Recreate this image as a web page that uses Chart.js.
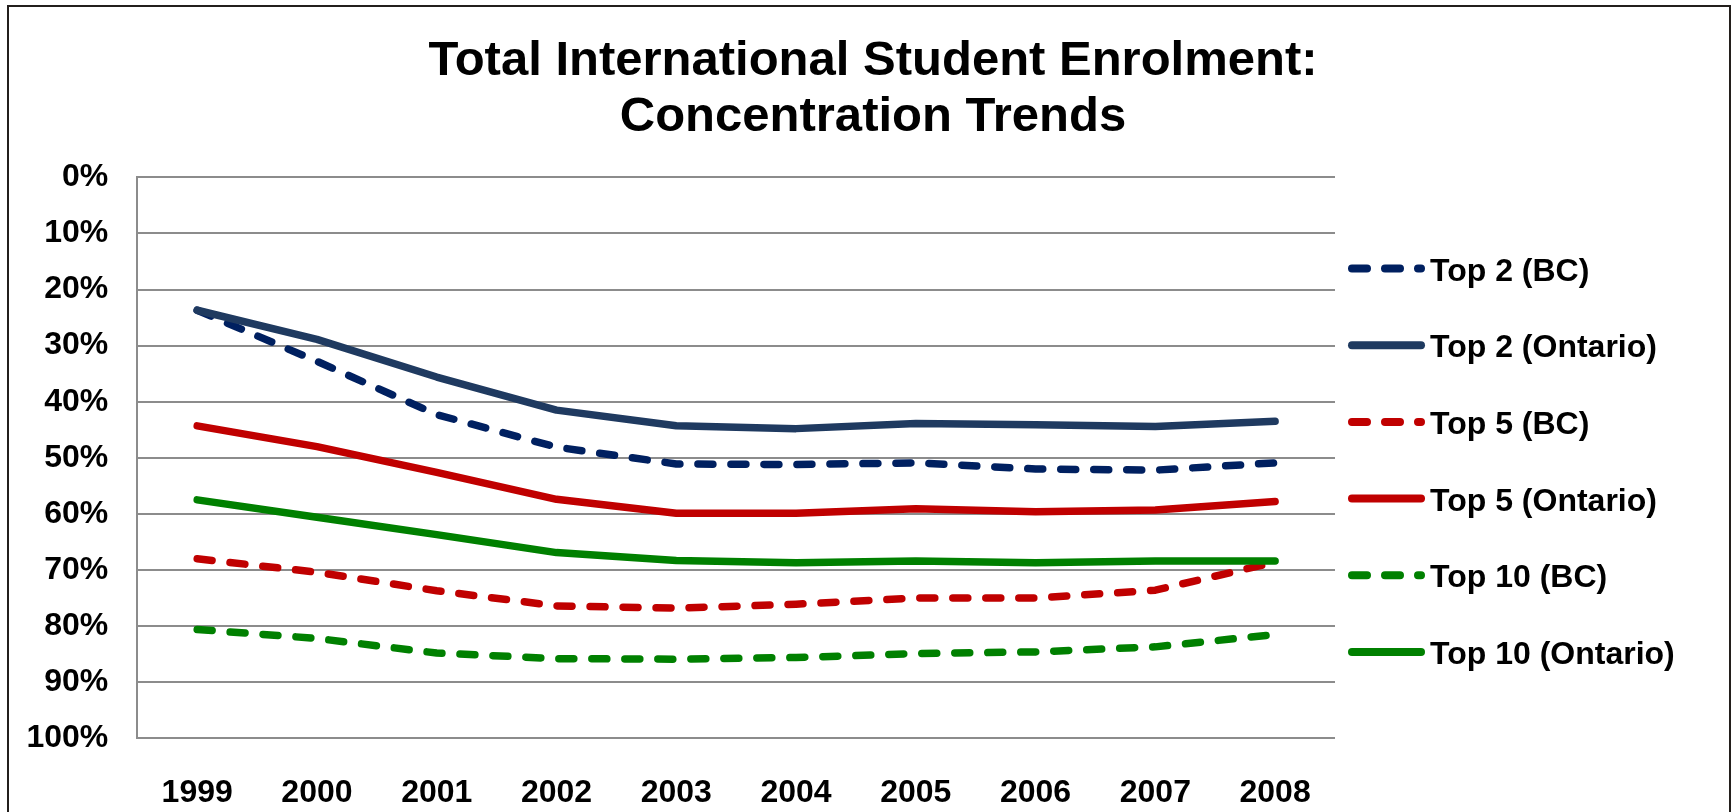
<!DOCTYPE html>
<html>
<head>
<meta charset="utf-8">
<title>Total International Student Enrolment: Concentration Trends</title>
<script src="https://cdn.jsdelivr.net/npm/chart.js@4/dist/chart.umd.min.js"></script>
<style>
  html, body { margin: 0; padding: 0; background: #ffffff; overflow: hidden; }
  canvas { display: block; }
</style>
</head>
<body>
<canvas id="chart" width="1733" height="812"></canvas>
<script>
// Years on the category axis
const years = ['1999', '2000', '2001', '2002', '2003', '2004', '2005', '2006', '2007', '2008'];

// Share of international enrolment held by the top source countries (%)
const top2BC       = [23.7, 32.8, 42.3, 48.1, 51.1, 51.2, 50.9, 52.0, 52.2, 50.9];
const top2Ontario  = [23.7, 28.9, 35.6, 41.5, 44.3, 44.8, 43.9, 44.1, 44.4, 43.5];
const top5BC       = [68.0, 70.4, 73.7, 76.4, 76.8, 76.1, 75.0, 75.0, 73.6, 68.6];
const top5Ontario  = [44.3, 48.0, 52.6, 57.4, 59.9, 59.9, 59.1, 59.6, 59.3, 57.8];
const top10BC      = [80.6, 82.2, 84.8, 85.8, 85.9, 85.6, 84.9, 84.6, 83.7, 81.5];
const top10Ontario = [57.5, 60.6, 63.7, 66.9, 68.3, 68.7, 68.4, 68.7, 68.4, 68.4];

// Series names as shown in the legend
const seriesNames = ['Top 2 (BC)', 'Top 2 (Ontario)', 'Top 5 (BC)', 'Top 5 (Ontario)', 'Top 10 (BC)', 'Top 10 (Ontario)'];

// Title lines
const titleLines = ['Total International Student Enrolment:', 'Concentration Trends'];

// Value axis range and step (percent)
const yMin = 0, yMax = 100, yStep = 10;

const FONT = "'Liberation Sans', Arial, Helvetica, sans-serif";
const NAVY_DASH = '#002060';
const NAVY = '#1F3A60';
const RED = '#C00000';
const GREEN = '#008000';
const DASH = [15, 18];
const LINE_W = 7.5;

function series(label, data, color, dashed, idx) {
  return {
    label: label,
    data: data,
    borderColor: color,
    backgroundColor: color,
    borderWidth: LINE_W,
    borderDash: dashed ? DASH : [],
    borderCapStyle: 'round',
    borderJoinStyle: 'round',
    pointRadius: 0,
    pointHoverRadius: 0,
    tension: 0,
    fill: false,
    order: 10 - idx
  };
}

const datasets = [
  series(seriesNames[0], top2BC, NAVY_DASH, true, 0),
  series(seriesNames[1], top2Ontario, NAVY, false, 1),
  series(seriesNames[2], top5BC, RED, true, 2),
  series(seriesNames[3], top5Ontario, RED, false, 3),
  series(seriesNames[4], top10BC, GREEN, true, 4),
  series(seriesNames[5], top10Ontario, GREEN, false, 5)
];

// Frame, title and legend drawn around the plot
const decorations = {
  id: 'decorations',
  beforeDraw(chart) {
    const ctx = chart.ctx;
    ctx.save();
    ctx.fillStyle = '#ffffff';
    ctx.fillRect(0, 0, chart.width, chart.height);
    ctx.restore();
  },
  afterDraw(chart) {
    const ctx = chart.ctx;
    ctx.save();

    // outer frame
    ctx.strokeStyle = '#231F1C';
    ctx.lineWidth = 2;
    ctx.strokeRect(8, 6, 1722, 900);

    // title
    ctx.fillStyle = '#000000';
    ctx.font = 'bold 49px ' + FONT;
    ctx.textAlign = 'center';
    ctx.textBaseline = 'alphabetic';
    ctx.fillText(titleLines[0], 873, 75);
    ctx.fillText(titleLines[1], 873, 131);

    // legend
    const x0 = 1352, x1 = 1421, textX = 1430, rowY0 = 268.5, rowGap = 76.7;
    ctx.font = 'bold 32px ' + FONT;
    ctx.textAlign = 'left';
    chart.data.datasets.forEach((ds, i) => {
      const y = rowY0 + i * rowGap;
      ctx.beginPath();
      ctx.strokeStyle = ds.borderColor;
      ctx.lineWidth = ds.borderWidth + 0.5;
      ctx.lineCap = 'round';
      ctx.setLineDash(ds.borderDash || []);
      ctx.lineDashOffset = 0;
      ctx.moveTo(x0, y);
      ctx.lineTo(x1, y);
      ctx.stroke();
      ctx.setLineDash([]);
      ctx.fillStyle = '#000000';
      ctx.fillText(ds.label, textX, y + 12);
    });
    ctx.restore();
  }
};

new Chart(document.getElementById('chart'), {
  type: 'line',
  data: { labels: years, datasets: datasets },
  plugins: [decorations],
  options: {
    responsive: false,
    animation: false,
    devicePixelRatio: 1,
    layout: { padding: { top: 177.3, left: 0, right: 398, bottom: 0 } },
    plugins: {
      legend: { display: false },
      title: { display: false },
      tooltip: { enabled: false }
    },
    scales: {
      x: {
        type: 'category',
        offset: true,
        grid: { display: false, drawTicks: false },
        border: { display: false },
        ticks: {
          color: '#000000',
          font: { family: FONT, size: 32, weight: 'bold' },
          padding: 36,
          maxRotation: 0,
          autoSkip: false
        },
        afterFit(scale) { scale.height = 812 - 738.3; }
      },
      y: {
        reverse: true,
        min: yMin,
        max: yMax,
        grid: { color: '#8C8C8C', lineWidth: 2, drawTicks: false },
        border: { display: true, color: '#8C8C8C', width: 2 },
        ticks: {
          stepSize: yStep,
          color: '#000000',
          font: { family: FONT, size: 32, weight: 'bold' },
          padding: 29,
          callback: (v) => v + '%'
        },
        afterFit(scale) { scale.width = 137.3; }
      }
    }
  }
});
</script>
</body>
</html>
